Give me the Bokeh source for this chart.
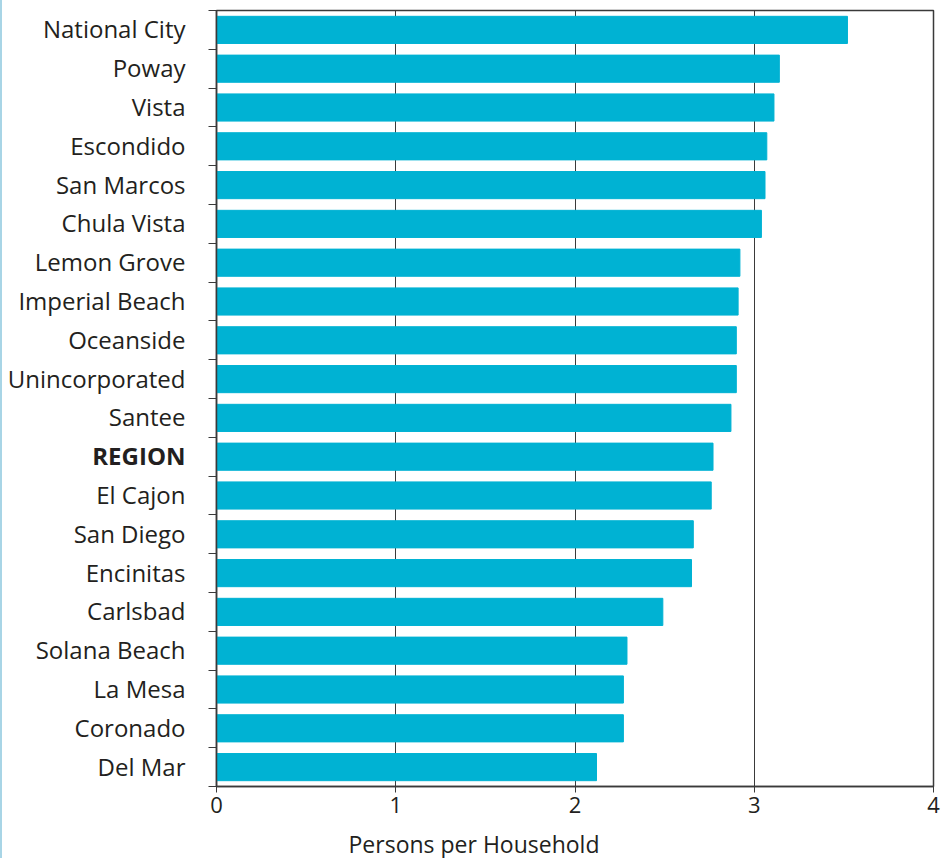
from bokeh.plotting import figure
from bokeh.layouts import row, column
from bokeh.models import Range1d, FixedTicker, ColumnDataSource, CustomLabelingPolicy
from bokeh.core.properties import value
from bokeh.embed import file_html
from bokeh.resources import INLINE

# Persons per household by jurisdiction, listed top to bottom
cities = [
    "National City", "Poway", "Vista", "Escondido", "San Marcos",
    "Chula Vista", "Lemon Grove", "Imperial Beach", "Oceanside",
    "Unincorporated", "Santee", "REGION", "El Cajon", "San Diego",
    "Encinitas", "Carlsbad", "Solana Beach", "La Mesa", "Coronado", "Del Mar",
]
persons = [
    3.52, 3.14, 3.11, 3.07, 3.06,
    3.04, 2.92, 2.91, 2.90,
    2.90, 2.87, 2.77, 2.76, 2.66,
    2.65, 2.49, 2.29, 2.27, 2.27, 2.12,
]
x_ticks = [0, 1, 2, 3, 4]
highlight = ["REGION"]
x_title = "Persons per Household"

FONT = "Open Sans"
TEXT = "#231f20"
BAR = "#00b2d3"
LINE = "#3a3a3a"

LABEL_W = 184      # width of the category-name column
MAIN_W = 757       # width of the bar chart
PLOT_H = 821       # height of the chart rows
TITLE_H = 37       # strip holding the axis title
TOP, BOTTOM = 10, 35

n = len(cities)
ypos = [n - 1 - i for i in range(n)]
styles = ["bold" if c in highlight else "normal" for c in cities]
src = ColumnDataSource(dict(city=cities, pph=persons, y=ypos,
                            xlab=[LABEL_W - 1] * n, style=styles))
yr = Range1d(-0.5, n - 0.5)


def bare(fig):
    fig.axis.visible = False
    fig.grid.visible = False
    fig.outline_line_color = None
    fig.min_border_left = fig.min_border_right = 0


# --- category names (bold for the regional total) ---
lab = figure(width=LABEL_W, height=PLOT_H, output_backend="svg",
             toolbar_location=None, x_range=Range1d(0, LABEL_W), y_range=yr,
             min_border_top=TOP, min_border_bottom=BOTTOM)
bare(lab)
lab.text(x="xlab", y="y", text="city", source=src, text_align="right",
         text_baseline="middle", y_offset=-1, text_font=value(FONT),
         text_font_size="24px", text_color=TEXT, text_font_style="style")

# --- bars ---
p = figure(width=MAIN_W, height=PLOT_H, output_backend="svg",
           toolbar_location=None,
           x_range=Range1d(x_ticks[0], x_ticks[-1]), y_range=yr,
           min_border_left=30, min_border_right=10,
           min_border_top=TOP, min_border_bottom=BOTTOM)
p.hbar(y="y", left=0, right="pph", height=0.7, color=BAR, source=src)

p.outline_line_color = LINE
p.outline_line_width = 1.5

# vertical grid lines at whole persons
p.xgrid.ticker = FixedTicker(ticks=x_ticks[1:-1])
p.xgrid.grid_line_color = LINE
p.xgrid.grid_line_width = 1
p.ygrid.visible = False

xa = p.xaxis[0]
xa.ticker = FixedTicker(ticks=x_ticks)
xa.axis_line_color = LINE
xa.axis_line_width = 1.5
xa.major_tick_line_color = LINE
xa.major_tick_in = 0
xa.major_tick_out = 6
xa.minor_tick_line_color = None
xa.major_label_text_font = FONT
xa.major_label_text_font_size = "22px"
xa.major_label_text_color = TEXT
xa.major_label_standoff = 4

# category tick marks fall between the bars; names are drawn alongside
ya = p.yaxis[0]
ya.ticker = FixedTicker(ticks=[k - 0.5 for k in range(n + 1)])
ya.axis_line_color = LINE
ya.axis_line_width = 1.5
ya.major_tick_line_color = LINE
ya.major_tick_in = 0
ya.major_tick_out = 8
ya.minor_tick_line_color = None
ya.major_label_standoff = 0
ya.major_label_text_font_size = "1px"
ya.major_label_policy = CustomLabelingPolicy(code="return new Set()")

# --- axis title, centred across the page ---
ttl = figure(width=LABEL_W + MAIN_W, height=TITLE_H, output_backend="svg",
             toolbar_location=None, x_range=Range1d(0, LABEL_W + MAIN_W),
             y_range=Range1d(0, TITLE_H), min_border_top=0,
             min_border_bottom=0)
bare(ttl)
ttl.text(x=[(LABEL_W + MAIN_W) / 2 + 1], y=[TITLE_H - 22], text=[x_title],
         text_align="center", text_baseline="middle", text_font=value(FONT),
         text_font_size="23px", text_color=TEXT)

page = column(row(lab, p), ttl)
page.styles = {"border-left": "2px solid #a8d5e6"}

open("out.html", "w").write(file_html(page, INLINE))
